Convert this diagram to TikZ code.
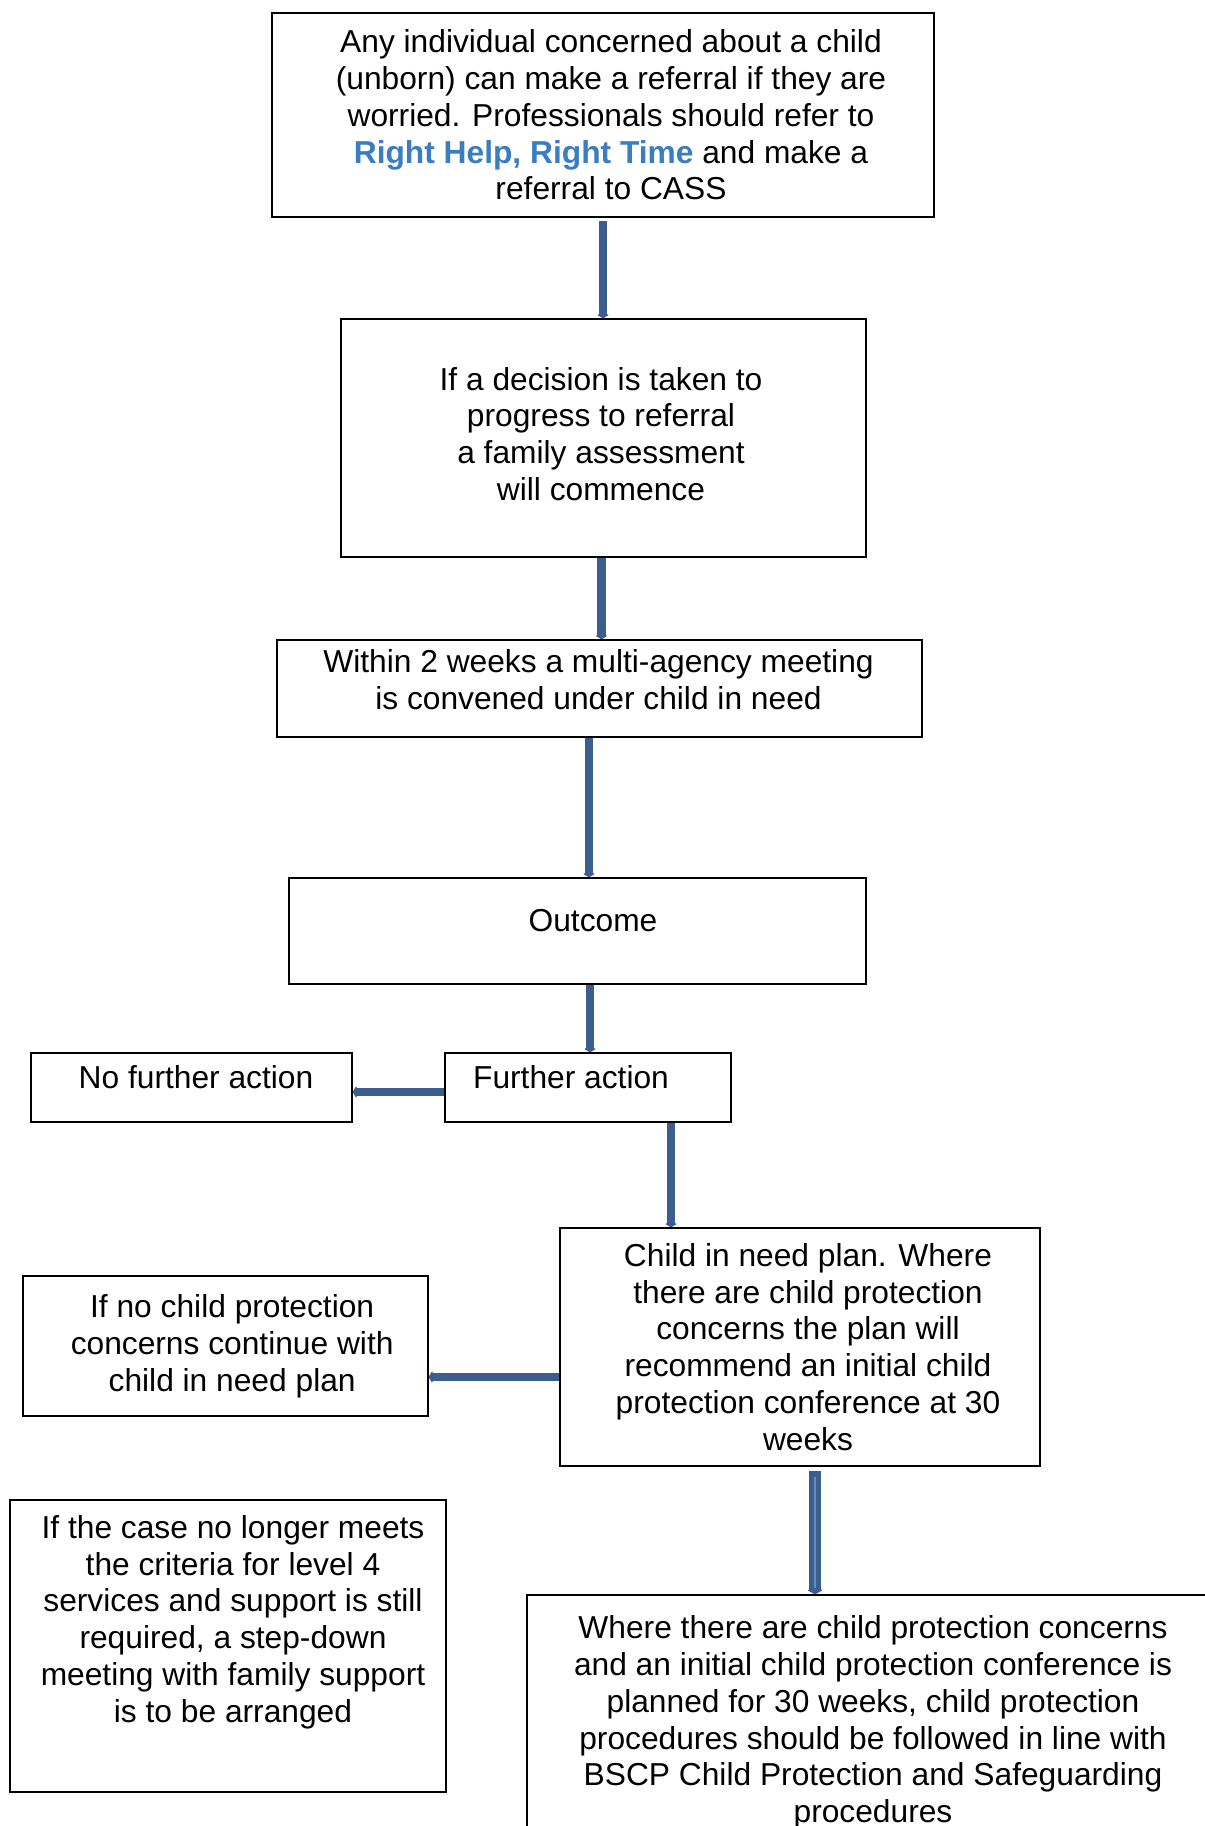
\documentclass[tikz,border=0pt]{standalone}
\usepackage{fontspec}
\setmainfont{Liberation Sans}
\usetikzlibrary{arrows.meta}
\definecolor{arrowblue}{RGB}{59,94,140}
\definecolor{arrowlight}{RGB}{100,140,190}
\definecolor{linkblue}{RGB}{58,125,193}
\newcommand{\boxfont}{\fontsize{23.8pt}{27.6pt}\selectfont}
\begin{document}
\begin{tikzpicture}[x=0.75pt,y=-0.75pt,
  box/.style={draw=black, line width=1.1pt, rectangle, inner sep=0pt, align=center, font=\boxfont},
  txt/.style={inner sep=0pt, align=center, font=\boxfont},
  flow/.style={draw=arrowblue, line width=6.3pt, -{Triangle[length=3pt,width=10pt,round]}},
  bigflow/.style={draw=arrowblue, line width=9pt, -{Triangle[length=3.5pt,width=13pt,round]},
    postaction={draw=arrowlight, line width=0.8pt, -, shorten >=5pt, shorten <=5pt}}]
\useasboundingbox (0,0) rectangle (1204,1826);
\fill[white] (0,0) rectangle (1204,1826);

% boxes
\node[box, minimum width=496.5pt, minimum height=153pt] (b1) at (603,115)
  {\hspace*{12pt}Any individual concerned about a child\\\hspace*{12pt}(unborn) can make a referral if they are\\\hspace*{12pt}worried. Professionals should refer to\\\hspace*{12pt}{\bfseries\color{linkblue}Right Help, Right Time} and make a\\\hspace*{12pt}referral to CASS};
\node[box, minimum width=393.75pt, minimum height=178.5pt] (b2) at (603.5,438) {};
\node[txt] (b2t) at (601,434) {If a decision is taken to\\progress to referral\\a family assessment\\will commence};
\node[box, minimum width=483.75pt, minimum height=72.75pt] (b3) at (599.5,688.5) {};
\node[txt] (b3t) at (598.5,680) {Within 2 weeks a multi-agency meeting\\is convened under child in need};
\node[box, minimum width=432.75pt, minimum height=79.5pt] (b4) at (577.5,931) {};
\node[txt] (b4t) at (593,921) {Outcome};
\node[box, minimum width=214.5pt, minimum height=51.75pt] (b5) at (588,1087.5) {};
\node[txt] (b5t) at (571,1077) {Further action};
\node[box, minimum width=240.75pt, minimum height=51.75pt] (b6) at (191.5,1087.5) {};
\node[txt] (b6t) at (196,1077) {No further action};
\node[box, minimum width=360pt, minimum height=178.5pt] (b7) at (800,1347)
  {\hspace*{12pt}Child in need plan. Where\\\hspace*{12pt}there are child protection\\\hspace*{12pt}concerns the plan will\\\hspace*{12pt}recommend an initial child\\\hspace*{12pt}protection conference at 30\\\hspace*{12pt}weeks};
\node[box, minimum width=303.75pt, minimum height=105pt] (b8) at (225.5,1346)
  {\hspace*{10pt}If no child protection\\\hspace*{10pt}concerns continue with\\\hspace*{10pt}child in need plan};
\node[box, minimum width=327pt, minimum height=219pt] (b10) at (228,1646) {};
\node[txt] (b10t) at (233,1622) {If the case no longer meets\\the criteria for level 4\\services and support is still\\required, a step-down\\meeting with family support\\is to be arranged};
\node[box, minimum width=519pt, minimum height=191.25pt] (b9) at (873,1722.5)
  {Where there are child protection concerns\\and an initial child protection conference is\\planned for 30 weeks, child protection\\procedures should be followed in line with\\BSCP Child Protection and Safeguarding\\procedures};

% connectors
\draw[flow] ([yshift=-2.5pt]b1.south) -- (b1.south |- b2.north);
\draw[flow] ([xshift=-1.5pt]b2.south) -- ([xshift=-1.5pt]b2.south |- b3.north);
\draw[flow] ([xshift=-7.9pt]b3.south) -- ([xshift=-7.9pt]b3.south |- b4.north);
\draw[flow] ([xshift=1.5pt]b5.north |- b4.south) -- ([xshift=1.5pt]b5.north);
\draw[flow] ([yshift=-3.4pt]b5.west) -- ([yshift=-3.4pt]b5.west -| b6.east);
\draw[flow] ([xshift=62.25pt]b5.south) -- ([xshift=62.25pt]b5.south |- b7.north);
\draw[flow] ([yshift=-22.5pt]b7.west) -- ([yshift=-22.5pt]b7.west -| b8.east);
\draw[bigflow] ([xshift=11.25pt,yshift=-3pt]b7.south) -- ([xshift=11.25pt]b7.south |- b9.north);
\end{tikzpicture}
\end{document}
